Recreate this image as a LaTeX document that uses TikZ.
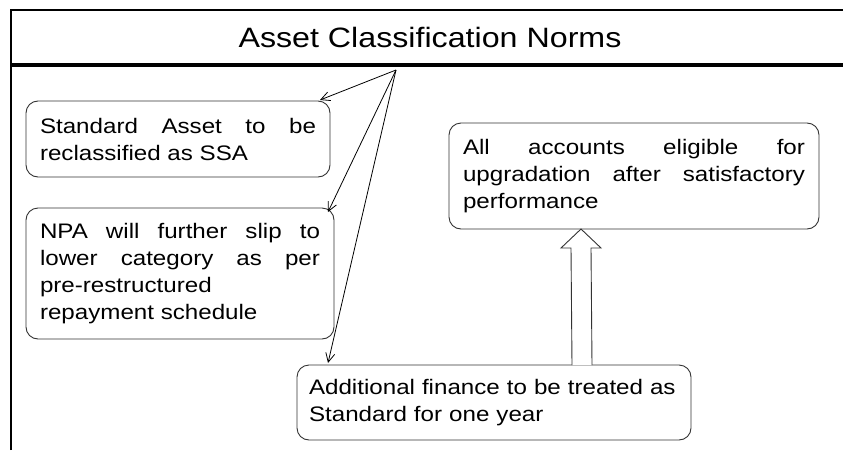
\documentclass[tikz,border=0pt]{standalone}
\usepackage{fontspec}
\setmainfont{Liberation Sans}[FakeStretch=1.15]
\usetikzlibrary{calc,arrows.meta}
\tolerance=10000
\hbadness=10000
\tikzset{%
  >={Straight Barb[length=9pt,width=9pt]},
  note/.style={draw=black!80,line width=0.9pt,rounded corners=12pt,
    inner xsep=14pt,inner ysep=0pt,outer sep=0pt,anchor=north west,
    align=justify,font=\fontsize{21}{27}\selectfont},
  link/.style={->,line width=0.8pt},
  hollow arrow/.style={draw=black!80,line width=0.9pt,fill=white}
}
\begin{document}
\begin{tikzpicture}[x=1pt,y=-1pt]
\useasboundingbox (0,0) rectangle (843,450);

%% frame and heading
\draw[line width=1.3pt] (11,450) -- (11,10) -- (843,10);
\draw[line width=4pt] (11,65) -- (843,65);
\node[font=\fontsize{28}{32}\selectfont] (title) at (430,37) {Asset Classification Norms};

%% the four boxes
\node[note,text width=276pt,minimum height=76pt] (ssa) at (26,101)
  {Standard Asset to be\linebreak reclassified as SSA};
\node[note,text width=280pt,minimum height=131pt] (npa) at (26,208)
  {NPA will further slip to\linebreak lower category as per\linebreak
   pre-restructured\newline repayment schedule};
\node[note,align=left,inner xsep=12pt,text width=370pt,minimum height=75pt] (addfin) at (297,365)
  {Additional finance to be treated as\\ Standard for one year};
\node[note,text width=342pt,minimum height=106pt] (allacc) at (449,123)
  {All accounts eligible for\linebreak upgradation after satisfactory\linebreak performance};

%% fan of arrows
\coordinate (apex) at (396,70);
\draw[link] (apex) -- ($(ssa.north east)+(-10,-1)$);
\draw[link] (apex) -- ($(npa.north east)+(-6,4)$);
\draw[link] (apex) -- ($(addfin.north west)+(31,-2)$);

%% hollow block arrow upwards
\coordinate (up0) at ($(addfin.north west)+(285,0)$);
\coordinate (tip) at ($(allacc.south)+(-53,0)$);
\draw[hollow arrow] ($(up0)+(-10,0)$) -- ($(tip)+(-10,19)$) -- ($(tip)+(-20,19)$)
  -- (tip) -- ($(tip)+(20,19)$) -- ($(tip)+(10,19)$) -- ($(up0)+(10,0)$);

\end{tikzpicture}
\end{document}
